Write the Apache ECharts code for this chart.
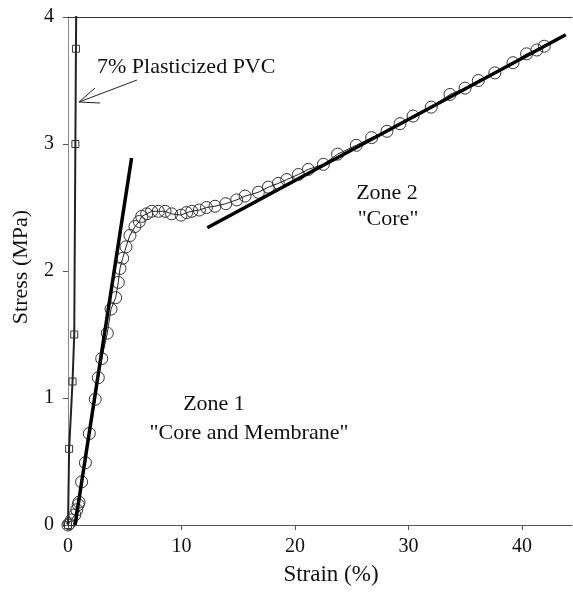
<!DOCTYPE html>
<html>
<head>
<meta charset="utf-8">
<script src="https://cdn.jsdelivr.net/npm/echarts@6/dist/echarts.min.js"></script>
<style>
  html, body { margin: 0; padding: 0; background: #fff; }
  #chart { width: 573px; height: 593px; }
</style>
</head>
<body>
<div id="chart"></div>
<script>
'use strict';
// sample (circles)
var strain = [0, 0.1, 0.3, 0.6, 0.77, 0.9, 0.97, 1.2, 1.53, 1.88, 2.4, 2.67, 2.97, 3.46, 3.79, 4.2, 4.43, 4.58, 4.82, 5.11,
  5.46, 5.9, 6.28, 6.49, 6.93, 7.37, 7.96, 8.55, 9.13, 9.96, 10.45, 10.9, 11.57, 12.2, 12.95, 13.9, 14.86, 15.6, 16.77, 17.65,
  18.53, 19.27, 20.3, 21.17, 22.5, 23.75, 25.4, 26.75, 28.1, 29.25, 30.4, 32.0, 33.65, 34.98, 36.15, 37.6, 39.2, 40.4, 41.3, 41.96];
var stress = [0, 0.01, 0.04, 0.08, 0.12, 0.16, 0.18, 0.34, 0.49, 0.72, 0.99, 1.16, 1.31, 1.51, 1.70, 1.79, 1.91, 2.02, 2.10, 2.19,
  2.28, 2.35, 2.39, 2.43, 2.45, 2.47, 2.47, 2.47, 2.45, 2.44, 2.46, 2.47, 2.48, 2.50, 2.51, 2.53, 2.56, 2.59, 2.62, 2.66,
  2.69, 2.72, 2.76, 2.80, 2.84, 2.92, 2.99, 3.05, 3.10, 3.16, 3.22, 3.29, 3.39, 3.44, 3.50, 3.56, 3.64, 3.71, 3.74, 3.77];
// 7% plasticized PVC (squares)
var pvcStrain = [0, 0.1, 0.4, 0.55, 0.65, 0.7, 0.74];
var pvcStress = [0, 0.6, 1.13, 1.5, 3.0, 3.75, 4.3];
// fitted lines
var zone1Strain = [0.62, 5.6];
var zone1Stress = [0, 2.89];
var zone2Strain = [12.27, 43.85];
var zone2Stress = [2.34, 3.86];
var xTicks = [0, 10, 20, 30, 40];
var yTicks = [0, 1, 2, 3, 4];

function pairs(xs, ys) {
  var out = [];
  for (var i = 0; i < xs.length; i++) {
    out.push([xs[i], ys[i]]);
  }
  return out;
}

var font = '"Liberation Serif", "Times New Roman", serif';
var myChart = echarts.init(document.getElementById('chart'));

var option = {
  backgroundColor: '#fff',
  animation: false,
  grid: { left: 68, right: 1, top: 17, bottom: 68 },
  xAxis: [{
    type: 'value',
    min: 0,
    max: 44.4,
    interval: 10,
    name: 'Strain (%)',
    nameLocation: 'middle',
    nameGap: 38,
    nameTextStyle: { fontFamily: font, fontSize: 23, color: '#111', padding: [0, 0, 0, 22] },
    axisLine: { show: true, lineStyle: { color: '#555', width: 1 } },
    axisTick: { show: true, inside: false, length: 5, lineStyle: { color: '#555' } },
    axisLabel: {
      fontFamily: font, fontSize: 20, color: '#111', margin: 12,
      showMaxLabel: false,
      formatter: function (v) { return xTicks.indexOf(v) >= 0 ? String(v) : ''; }
    },
    splitLine: { show: false }
  }, {
    type: 'value',
    position: 'top',
    min: 0,
    max: 44.4,
    axisLine: { show: true, lineStyle: { color: '#333', width: 1 } },
    axisTick: { show: false },
    axisLabel: { show: false },
    splitLine: { show: false }
  }],
  yAxis: {
    type: 'value',
    min: 0,
    max: 4,
    interval: 1,
    name: 'Stress (MPa)',
    nameLocation: 'middle',
    nameGap: 36,
    nameTextStyle: { fontFamily: font, fontSize: 22, color: '#111', padding: [0, 0, 0, 8] },
    axisLine: { show: true, lineStyle: { color: '#888', width: 1 } },
    axisTick: { show: true, inside: false, length: 5, lineStyle: { color: '#555' } },
    axisLabel: {
      fontFamily: font, fontSize: 20, color: '#111', margin: 14,
      formatter: function (v) { return yTicks.indexOf(v) >= 0 ? String(v) : ''; }
    },
    splitLine: { show: false }
  },
  series: [
    {
      name: 'PVC',
      type: 'line',
      data: pairs(pvcStrain, pvcStress),
      symbol: 'rect',
      symbolSize: 7,
      showAllSymbol: true,
      clip: true,
      lineStyle: { color: '#222', width: 2 },
      itemStyle: { color: 'rgba(255,255,255,0)', borderColor: '#333', borderWidth: 1 }
    },
    {
      name: 'Sample',
      type: 'line',
      data: pairs(strain, stress),
      symbol: 'circle',
      symbolSize: 12,
      showAllSymbol: true,
      lineStyle: { color: '#222', width: 1 },
      itemStyle: { color: 'rgba(255,255,255,0)', borderColor: '#333', borderWidth: 1 }
    },
    {
      name: 'Zone 1 fit',
      type: 'line',
      z: 5,
      data: pairs(zone1Strain, zone1Stress),
      symbol: 'none',
      lineStyle: { color: '#000', width: 3.5 }
    },
    {
      name: 'Zone 2 fit',
      type: 'line',
      z: 5,
      data: pairs(zone2Strain, zone2Stress),
      symbol: 'none',
      lineStyle: { color: '#000', width: 3.5 }
    }
  ],
  graphic: [
    { type: 'text', left: 97, top: 56, style: { text: '7% Plasticized PVC', font: '22px ' + font, fill: '#111' } },
    { type: 'polyline', shape: { points: [[137, 80], [79, 102]] }, style: { stroke: '#222', lineWidth: 1, fill: null } },
    { type: 'polyline', shape: { points: [[95, 88], [79, 102], [100, 103]] }, style: { stroke: '#222', lineWidth: 1, fill: null } },
    { type: 'text', x: 214, y: 404, style: { text: 'Zone 1', font: '22px ' + font, fill: '#111', align: 'center', verticalAlign: 'middle' } },
    { type: 'text', x: 249, y: 433, style: { text: '"Core and Membrane"', font: '22px ' + font, fill: '#111', align: 'center', verticalAlign: 'middle' } },
    { type: 'text', x: 387, y: 193, style: { text: 'Zone 2', font: '22px ' + font, fill: '#111', align: 'center', verticalAlign: 'middle' } },
    { type: 'text', x: 388, y: 219, style: { text: '"Core"', font: '22px ' + font, fill: '#111', align: 'center', verticalAlign: 'middle' } }
  ]
};
myChart.setOption(option);
</script>
</body>
</html>
